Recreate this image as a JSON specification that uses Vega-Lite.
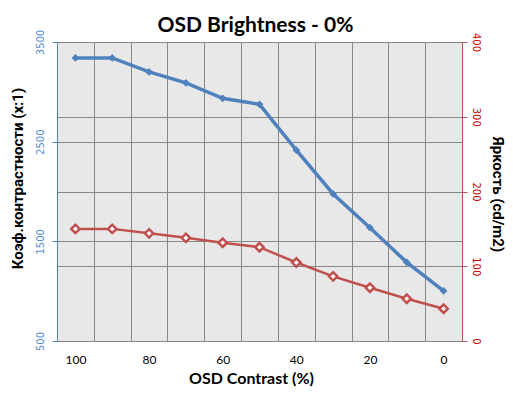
{
  "$schema": "https://vega.github.io/schema/vega-lite/v6.json",
  "width": 405,
  "height": 299,
  "autosize": {"type": "none"},
  "padding": {"left": 57, "top": 42, "right": 51, "bottom": 52},
  "background": "white",
  "title": {
    "text": "OSD Brightness - 0%",
    "font": "Lato",
    "fontSize": 21,
    "fontWeight": "bold",
    "color": "black",
    "anchor": "middle",
    "baseline": "alphabetic",
    "offset": -24,
    "dx": -4
  },
  "data": {
    "values": [
      {"contrast": 100, "ratio": 3340, "brightness": 150},
      {"contrast": 90, "ratio": 3340, "brightness": 150},
      {"contrast": 80, "ratio": 3200, "brightness": 144},
      {"contrast": 70, "ratio": 3090, "brightness": 138},
      {"contrast": 60, "ratio": 2935, "brightness": 131.5},
      {"contrast": 50, "ratio": 2875, "brightness": 125.5},
      {"contrast": 40, "ratio": 2415, "brightness": 105},
      {"contrast": 30, "ratio": 1975, "brightness": 86.5},
      {"contrast": 20, "ratio": 1637, "brightness": 71.3},
      {"contrast": 10, "ratio": 1289, "brightness": 56.6},
      {"contrast": 0, "ratio": 1002, "brightness": 43.2}
    ]
  },
  "encoding": {
    "x": {
      "field": "contrast",
      "type": "ordinal",
      "sort": "descending",
      "scale": {"type": "band", "paddingInner": 0, "paddingOuter": 0},
      "axis": {
        "title": "OSD Contrast (%)",
        "labelExpr": "datum.value % 20 == 0 ? datum.label : ''",
        "labelAngle": 0,
        "tickBand": "extent",
        "grid": true,
        "gridColor": "#878787",
        "gridOpacity": 1,
        "ticks": false,
        "domainColor": "#878787",
        "labelPadding": 22,
        "labelBaseline": "alphabetic",
        "labelAlign": "center",
        "labelFont": "Lato",
        "labelFontSize": 12,
        "labelColor": "black",
        "titleFont": "Lato",
        "titleFontSize": 16,
        "titleFontWeight": "bold",
        "titleColor": "black",
        "titleX": 194,
        "titleY": 42,
        "titleAlign": "center",
        "titleBaseline": "alphabetic"
      }
    }
  },
  "layer": [
    {
      "mark": {
        "type": "line",
        "color": "#4f81bd",
        "strokeWidth": 3.5,
        "point": {"filled": true, "shape": "diamond", "size": 60, "color": "#4f81bd"}
      },
      "encoding": {
        "y": {
          "field": "ratio",
          "type": "quantitative",
          "scale": {"domain": [500, 3500], "nice": false, "zero": false},
          "axis": {
            "orient": "left",
            "values": [500, 1500, 2500, 3500],
            "format": "d",
            "title": "Коэф.контрастности  (x:1)",
            "grid": true,
            "gridColor": "#878787",
            "gridOpacity": 1,
            "domainColor": "#4f81bd",
            "tickColor": "#4f81bd",
            "tickSize": 5,
            "labelAngle": 270,
            "labelAlign": "center",
            "labelBaseline": "alphabetic",
            "labelPadding": 9,
            "labelColor": "#558ed5",
            "labelFont": "DejaVu Sans",
            "labelFontSize": 10,
            "titleFont": "Roboto",
            "titleFontSize": 15,
            "titleFontWeight": "bold",
            "titleColor": "black",
            "titleAngle": 270,
            "titleX": -40,
            "titleY": 136,
            "titleAlign": "center",
            "titleBaseline": "middle"
          }
        }
      }
    },
    {
      "mark": {
        "type": "line",
        "color": "#c0504d",
        "strokeWidth": 2.5,
        "point": {"filled": false, "fill": "white", "shape": "diamond", "size": 70, "strokeWidth": 2.5, "color": "#c0504d"}
      },
      "encoding": {
        "y": {
          "field": "brightness",
          "type": "quantitative",
          "scale": {"domain": [0, 400], "nice": false},
          "axis": {
            "orient": "right",
            "values": [0, 100, 200, 300, 400],
            "title": "Яркость (cd/m2)",
            "grid": true,
            "gridColor": "#878787",
            "gridOpacity": 1,
            "domainColor": "#c0504d",
            "tickColor": "#c0504d",
            "tickSize": 5,
            "labelAngle": 90,
            "labelAlign": "center",
            "labelBaseline": "alphabetic",
            "labelPadding": 5,
            "labelColor": "#cc0000",
            "labelFont": "DejaVu Sans",
            "labelFontSize": 10,
            "titleFont": "Roboto",
            "titleFontSize": 15,
            "titleFontWeight": "bold",
            "titleColor": "black",
            "titleAngle": 90,
            "titleX": 35,
            "titleY": 152,
            "titleAlign": "center",
            "titleBaseline": "middle"
          }
        }
      }
    }
  ],
  "resolve": {"scale": {"y": "independent"}},
  "config": {
    "view": {"stroke": "#878787", "fill": "#e8e8e8"}
  }
}
